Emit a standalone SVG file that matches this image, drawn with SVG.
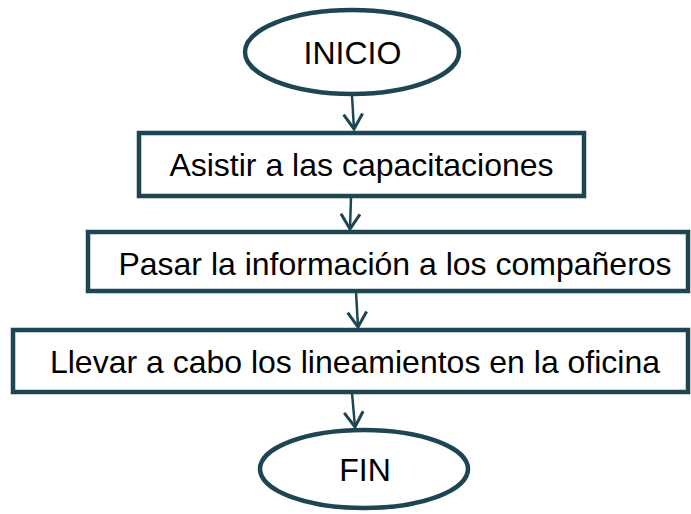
<svg xmlns="http://www.w3.org/2000/svg" width="691" height="514" viewBox="0 0 691 514">
<defs>
<marker id="arr" markerWidth="20" markerHeight="22" refX="16" refY="11" orient="auto" markerUnits="userSpaceOnUse">
<path d="M1,1.5 L16,11 L1,20.5" fill="none" stroke="#1d4652" stroke-width="3"/>
</marker>
</defs>
<style>
.shape{fill:#fff;stroke:#1d4652;stroke-width:4.5}
.lbl{font-family:"Liberation Sans",Arial,sans-serif;font-size:32px;fill:#000;text-anchor:middle}
.conn{stroke:#1d4652;stroke-width:2.5;fill:none}
</style>
<rect width="691" height="514" fill="#fff"/>
<g id="connectors">
<line class="conn" x1="352" y1="96" x2="354" y2="129" marker-end="url(#arr)"/>
<line class="conn" x1="351" y1="197" x2="350" y2="229" marker-end="url(#arr)"/>
<line class="conn" x1="356" y1="292" x2="358" y2="327" marker-end="url(#arr)"/>
<line class="conn" x1="352" y1="393" x2="355" y2="427" marker-end="url(#arr)"/>
</g>
<g id="inicio">
<ellipse class="shape" cx="352" cy="52" rx="107" ry="42"/>
<text class="lbl" x="352.5" y="63.5">INICIO</text>
</g>
<g id="asistir">
<rect class="shape" x="139" y="133" width="445" height="63"/>
<text class="lbl" x="361.5" y="175.5">Asistir a las capacitaciones</text>
</g>
<g id="pasar">
<rect class="shape" x="88" y="232" width="600" height="59"/>
<text class="lbl" x="395" y="274.5">Pasar la información a los compañeros</text>
</g>
<g id="llevar">
<rect class="shape" x="13" y="330" width="675" height="62"/>
<text class="lbl" x="355" y="373">Llevar a cabo los lineamientos en la oficina</text>
</g>
<g id="fin">
<ellipse class="shape" cx="364" cy="469" rx="104" ry="39"/>
<text class="lbl" x="365" y="481">FIN</text>
</g>
</svg>
